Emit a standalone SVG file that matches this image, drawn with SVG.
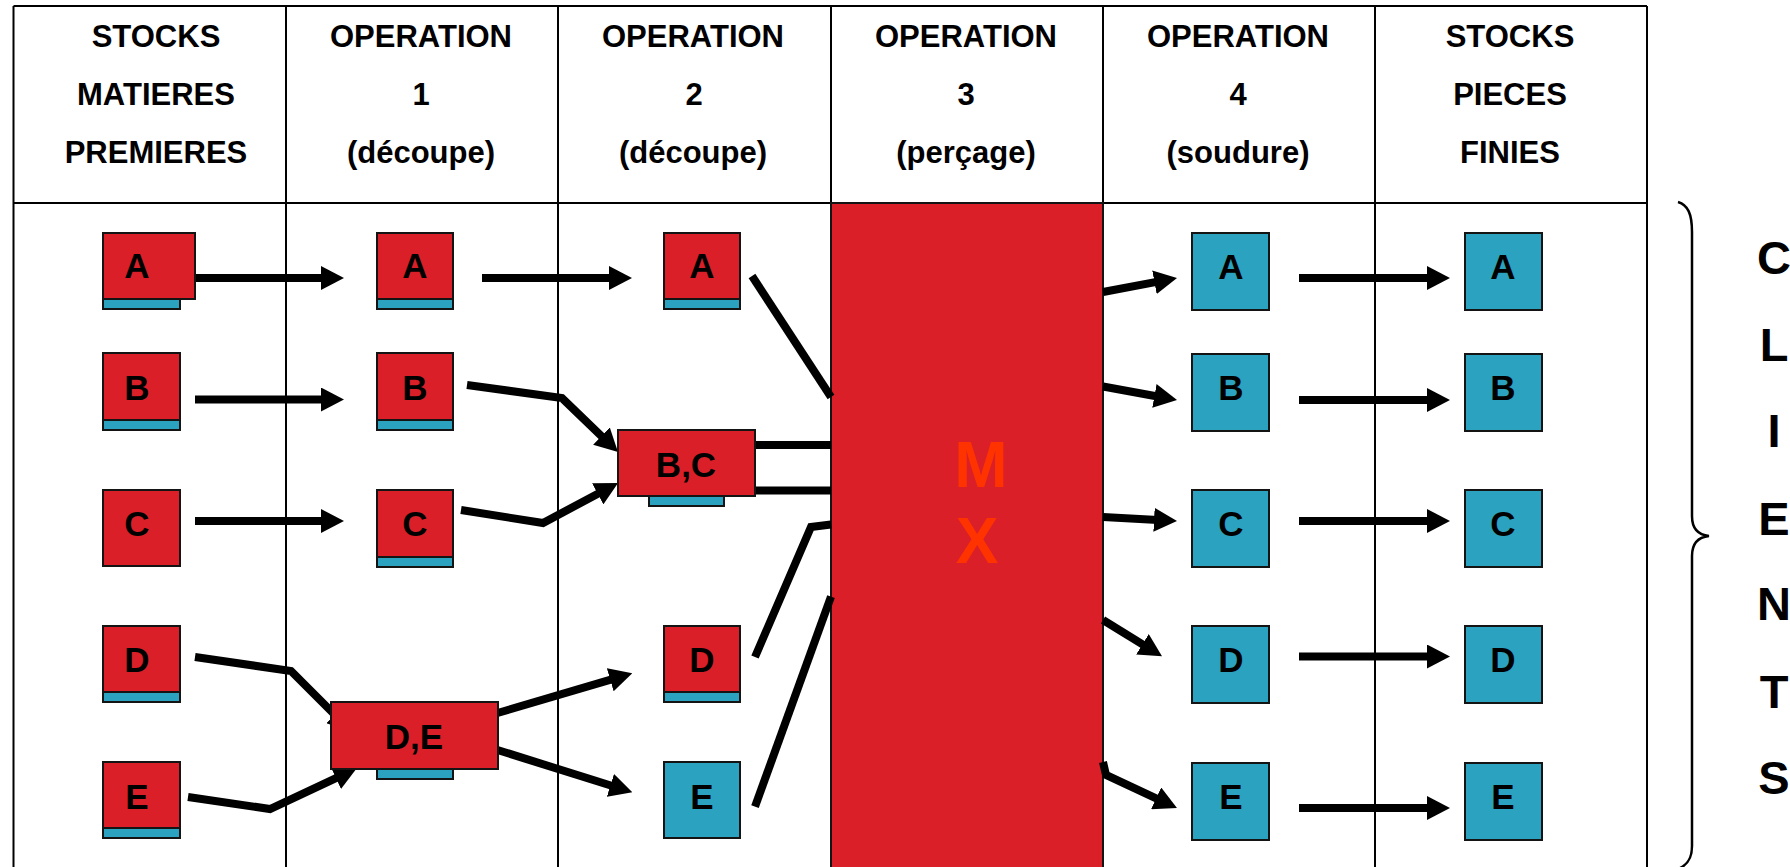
<svg xmlns="http://www.w3.org/2000/svg" width="1790" height="867" viewBox="0 0 1790 867">
  <defs>
    <style>
      .grid { fill: none; stroke: #000; stroke-width: 2; }
      .red { fill: #DA1F28; stroke: #141414; stroke-width: 2; }
      .teal { fill: #2BA2BF; stroke: #141414; stroke-width: 2; }
      .hdr { font-family: "Liberation Sans", Arial, sans-serif; font-weight: bold; font-size: 31px; text-anchor: middle; fill: #000; }
      .lbl { font-family: "Liberation Sans", Arial, sans-serif; font-weight: bold; font-size: 35px; text-anchor: middle; fill: #000; }
      .big { font-family: "Liberation Sans", Arial, sans-serif; font-weight: bold; font-size: 64px; text-anchor: middle; fill: #FF3300; }
      .side { font-family: "Liberation Sans", Arial, sans-serif; font-weight: bold; font-size: 47px; text-anchor: middle; fill: #000; }
      .conn { fill: none; stroke: #000; stroke-width: 8; stroke-linejoin: miter; stroke-linecap: butt; }
      .arr { marker-end: url(#head); }
      .brace { fill: none; stroke: #000; stroke-width: 2.5; }
    </style>
    <marker id="head" markerUnits="userSpaceOnUse" markerWidth="23" markerHeight="24" viewBox="0 0 23 24" refX="13" refY="12" orient="auto">
      <path d="M0,0 L23,12 L0,24 Z" fill="#000"/>
    </marker>
  </defs>

  <rect x="0" y="0" width="1790" height="867" fill="#fff"/>

  <!-- table frame and column rules -->
  <g id="table">
    <path class="grid" d="M13.5,6 H1647 M13.5,6 V867 M286,6 V867 M558,6 V867 M831,6 V867 M1103,6 V867 M1375,6 V867 M1647,6 V867 M13.5,203 H1647"/>
  </g>

  <!-- column headings -->
  <g id="headers">
    <text class="hdr" x="156" y="47">STOCKS</text>
    <text class="hdr" x="156" y="105">MATIERES</text>
    <text class="hdr" x="156" y="163">PREMIERES</text>

    <text class="hdr" x="421" y="47">OPERATION</text>
    <text class="hdr" x="421" y="105">1</text>
    <text class="hdr" x="421" y="163">(découpe)</text>

    <text class="hdr" x="693" y="47">OPERATION</text>
    <text class="hdr" x="694" y="105">2</text>
    <text class="hdr" x="693" y="163">(découpe)</text>

    <text class="hdr" x="966" y="47">OPERATION</text>
    <text class="hdr" x="966" y="105">3</text>
    <text class="hdr" x="966" y="163">(perçage)</text>

    <text class="hdr" x="1238" y="47">OPERATION</text>
    <text class="hdr" x="1238" y="105">4</text>
    <text class="hdr" x="1238" y="163">(soudure)</text>

    <text class="hdr" x="1510" y="47">STOCKS</text>
    <text class="hdr" x="1510" y="105">PIECES</text>
    <text class="hdr" x="1510" y="163">FINIES</text>
  </g>

  <!-- drilling bottleneck -->
  <g id="op3-mx">
    <rect class="red" x="831" y="203" width="272" height="670"/>
    <text class="big" x="981" y="487">M</text>
    <text class="big" x="977" y="563">X</text>
  </g>

  <!-- flows between stations -->
  <g id="connectors">
    <!-- raw stock to op 1 -->
    <path class="conn arr" d="M195,278 H334"/>
    <path class="conn arr" d="M195,399.5 H334"/>
    <path class="conn arr" d="M195,521 H334"/>
    <path class="conn arr" d="M195,657 L291,671 L344,724"/>
    <path class="conn arr" d="M188,797 L270,809 L347.7,772.6"/>

    <!-- op 1 to op 2 -->
    <path class="conn arr" d="M482,278 H622"/>
    <path class="conn arr" d="M467,385 L562,398 L610.8,445.1"/>
    <path class="conn arr" d="M461,510 L543,523 L609.2,487.7"/>
    <path class="conn arr" d="M497.5,713 L622.7,676.1"/>
    <path class="conn arr" d="M497.5,750 L622.8,789.3"/>

    <!-- op 2 into drilling -->
    <path class="conn" d="M752,276 L831,397"/>
    <path class="conn" d="M755,445 H831"/>
    <path class="conn" d="M755,490.5 H831"/>
    <path class="conn" d="M755,657 L811,527 L831,524.5"/>
    <path class="conn" d="M755,806.7 L831,596.7"/>

    <!-- drilling to op 4 -->
    <path class="conn arr" d="M1103,292 L1167.2,279.9"/>
    <path class="conn arr" d="M1103,386.5 L1167.2,398.2"/>
    <path class="conn arr" d="M1103,517 L1167,520.5"/>
    <path class="conn arr" d="M1103,620 L1153.5,651.1"/>
    <path class="conn arr" d="M1103,762 L1106,775 L1167.9,803.8"/>

    <!-- op 4 to finished stock -->
    <path class="conn arr" d="M1299,278 H1440"/>
    <path class="conn arr" d="M1299,400 H1440"/>
    <path class="conn arr" d="M1299,521 H1440"/>
    <path class="conn arr" d="M1299,656.5 H1440"/>
    <path class="conn arr" d="M1299,808 H1440"/>
  </g>

  <!-- raw material stock -->
  <g id="mp-a"><rect class="teal" x="103" y="299" width="77" height="10"/><rect class="red" x="103" y="233" width="92" height="66"/><text class="lbl" x="137" y="278">A</text></g>
  <g id="mp-b"><rect class="teal" x="103" y="420" width="77" height="10"/><rect class="red" x="103" y="353" width="77" height="67"/><text class="lbl" x="137" y="400">B</text></g>
  <g id="mp-c"><rect class="red" x="103" y="490" width="77" height="76"/><text class="lbl" x="137" y="536">C</text></g>
  <g id="mp-d"><rect class="teal" x="103" y="692" width="77" height="10"/><rect class="red" x="103" y="626" width="77" height="66"/><text class="lbl" x="137" y="672">D</text></g>
  <g id="mp-e"><rect class="teal" x="103" y="828" width="77" height="10"/><rect class="red" x="103" y="762" width="77" height="66"/><text class="lbl" x="137" y="809">E</text></g>

  <!-- operation 1 -->
  <g id="op1-a"><rect class="teal" x="377" y="299" width="76" height="10"/><rect class="red" x="377" y="233" width="76" height="66"/><text class="lbl" x="415" y="278">A</text></g>
  <g id="op1-b"><rect class="teal" x="377" y="420" width="76" height="10"/><rect class="red" x="377" y="353" width="76" height="67"/><text class="lbl" x="415" y="400">B</text></g>
  <g id="op1-c"><rect class="teal" x="377" y="557" width="76" height="10"/><rect class="red" x="377" y="490" width="76" height="67"/><text class="lbl" x="415" y="536">C</text></g>
  <g id="op1-de"><rect class="teal" x="377" y="769" width="76" height="10"/><rect class="red" x="331" y="702" width="167" height="67"/><text class="lbl" x="414" y="749">D,E</text></g>

  <!-- operation 2 -->
  <g id="op2-a"><rect class="teal" x="664" y="299" width="76" height="10"/><rect class="red" x="664" y="233" width="76" height="66"/><text class="lbl" x="702" y="278">A</text></g>
  <g id="op2-bc"><rect class="teal" x="649" y="496" width="75" height="10"/><rect class="red" x="618" y="430" width="137" height="66"/><text class="lbl" x="686" y="477">B,C</text></g>
  <g id="op2-d"><rect class="teal" x="664" y="692" width="76" height="10"/><rect class="red" x="664" y="626" width="76" height="66"/><text class="lbl" x="702" y="672">D</text></g>
  <g id="op2-e"><rect class="teal" x="664" y="762" width="76" height="76"/><text class="lbl" x="702" y="809">E</text></g>

  <!-- operation 4 -->
  <g id="op4-a"><rect class="teal" x="1192" y="233" width="77" height="77"/><text class="lbl" x="1231" y="279">A</text></g>
  <g id="op4-b"><rect class="teal" x="1192" y="354" width="77" height="77"/><text class="lbl" x="1231" y="400">B</text></g>
  <g id="op4-c"><rect class="teal" x="1192" y="490" width="77" height="77"/><text class="lbl" x="1231" y="536">C</text></g>
  <g id="op4-d"><rect class="teal" x="1192" y="626" width="77" height="77"/><text class="lbl" x="1231" y="672">D</text></g>
  <g id="op4-e"><rect class="teal" x="1192" y="763" width="77" height="77"/><text class="lbl" x="1231" y="809">E</text></g>

  <!-- finished parts stock -->
  <g id="pf-a"><rect class="teal" x="1465" y="233" width="77" height="77"/><text class="lbl" x="1503" y="279">A</text></g>
  <g id="pf-b"><rect class="teal" x="1465" y="354" width="77" height="77"/><text class="lbl" x="1503" y="400">B</text></g>
  <g id="pf-c"><rect class="teal" x="1465" y="490" width="77" height="77"/><text class="lbl" x="1503" y="536">C</text></g>
  <g id="pf-d"><rect class="teal" x="1465" y="626" width="77" height="77"/><text class="lbl" x="1503" y="672">D</text></g>
  <g id="pf-e"><rect class="teal" x="1465" y="763" width="77" height="77"/><text class="lbl" x="1503" y="809">E</text></g>

  <!-- customers -->
  <g id="clients">
    <path class="brace" d="M1678,202 C1688,205 1692,214 1692,232 L1692,516 C1692,529 1699,535 1709,536 C1699,537 1692,543 1692,556 L1692,846 C1692,858 1688,865 1678,869"/>
    <text class="side" x="1774" y="274">C</text>
    <text class="side" x="1774" y="361">L</text>
    <text class="side" x="1774" y="447">I</text>
    <text class="side" x="1774" y="535">E</text>
    <text class="side" x="1774" y="620">N</text>
    <text class="side" x="1774" y="708">T</text>
    <text class="side" x="1774" y="794">S</text>
  </g>
</svg>
